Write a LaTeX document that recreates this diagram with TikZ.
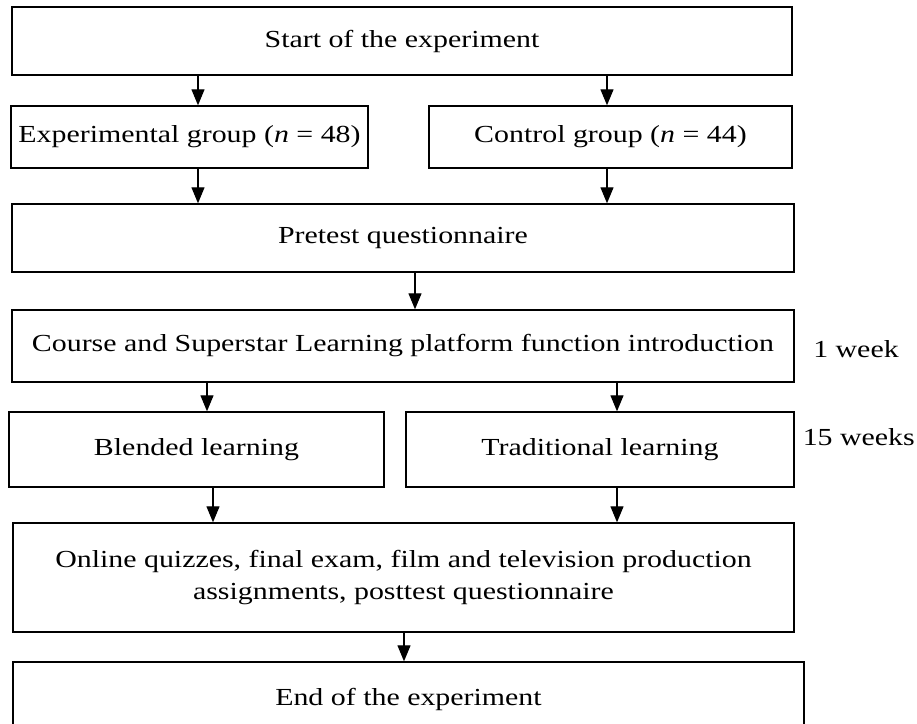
\documentclass[tikz,border=0pt]{standalone}
\usepackage{fontspec}
\setmainfont{Liberation Serif}[FakeStretch=1.22]
\usetikzlibrary{arrows.meta}
\newcommand{\fsz}{\fontsize{24.5}{32}\selectfont}
\begin{document}
\begin{tikzpicture}[x=1pt,y=-1pt,
  box/.style={draw, line width=1.4pt, inner sep=0pt, align=center, font=\fsz},
  arr/.style={line width=1.2pt, -{Triangle[length=16pt,width=13pt]}},
  lab/.style={inner sep=0pt, font=\fsz}]
\useasboundingbox (0,0) rectangle (917,723);
\clip (0,0) rectangle (917,723);
\node[box, minimum width=780pt, minimum height=68pt] (start) at (402,41) {Start of the experiment};
\node[box, minimum width=357pt, minimum height=62pt] (exp) at (189.5,137) {Experimental group (\textit{n} = 48)};
\node[box, minimum width=363pt, minimum height=62pt] (ctrl) at (610.5,137) {Control group (\textit{n} = 44)};
\node[box, minimum width=782pt, minimum height=68pt] (pre) at (403,238) {Pretest questionnaire};
\node[box, minimum width=782pt, minimum height=72pt] (course) at (403,346) {Course and Superstar Learning platform function introduction};
\node[box, minimum width=375pt, minimum height=75pt] (blend) at (196.5,449.5) {Blended learning};
\node[box, minimum width=388pt, minimum height=75pt] (trad) at (600,449.5) {Traditional learning};
\node[box, minimum width=781pt, minimum height=109pt] (online) at (403.5,577.5) {Online quizzes, final exam, film and television production\\assignments, posttest questionnaire};
\node[box, minimum width=791pt, minimum height=74pt] (end) at (408.5,699) {End of the experiment};
\node[lab] (w1) at (856,349) {1 week};
\node[lab, anchor=east] (w15) at (915,437) {15 weeks};
\coordinate (xa) at (198,0);
\coordinate (xb) at (607,0);
\coordinate (xc) at (415,0);
\coordinate (xd) at (207,0);
\coordinate (xe) at (617,0);
\coordinate (xf) at (213,0);
\coordinate (xg) at (404,0);
\draw[arr] (start.south -| xa) -- (exp.north -| xa);
\draw[arr] (start.south -| xb) -- (ctrl.north -| xb);
\draw[arr] (exp.south -| xa) -- (pre.north -| xa);
\draw[arr] (ctrl.south -| xb) -- (pre.north -| xb);
\draw[arr] (pre.south -| xc) -- (course.north -| xc);
\draw[arr] (course.south -| xd) -- (blend.north -| xd);
\draw[arr] (course.south -| xe) -- (trad.north -| xe);
\draw[arr] (blend.south -| xf) -- (online.north -| xf);
\draw[arr] (trad.south -| xe) -- (online.north -| xe);
\draw[arr] (online.south -| xg) -- (end.north -| xg);
\end{tikzpicture}
\end{document}
